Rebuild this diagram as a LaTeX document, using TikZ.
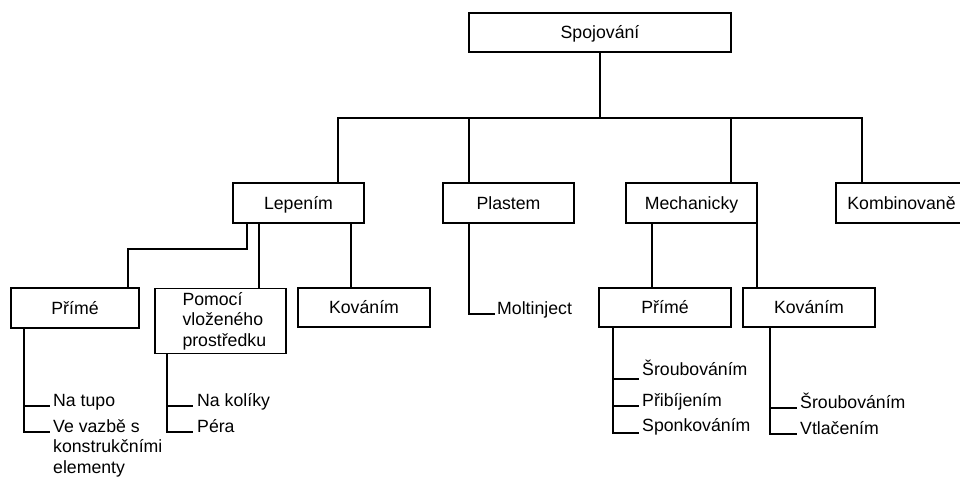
\documentclass[tikz,border=0pt]{standalone}
\usepackage{fontspec}
\setmainfont{Liberation Sans}
\newcommand\diafont{\fontsize{17.7}{20.5}\selectfont}
\begin{document}
\begin{tikzpicture}[x=1pt,y=-1pt,
  box/.style={draw, line width=1.4pt, inner sep=0pt, font=\diafont, text height=12.7pt, text depth=0pt},
  lnk/.style={line width=1.4pt},
  leaf/.style={anchor=base west, inner sep=0pt, font=\diafont}]
\clip (0,0) rectangle (960,477);
\fill[white] (0,0) rectangle (960,477);
% boxes
\node[box, minimum width=262pt, minimum height=39pt] (spoj) at (600,32.5) {Spojování};
\node[box, minimum width=131pt, minimum height=40pt] (lep) at (298.5,203) {Lepením};
\node[box, minimum width=131pt, minimum height=40pt] (pla) at (508.5,203) {Plastem};
\node[box, minimum width=131pt, minimum height=40pt] (mech) at (691.5,203) {Mechanicky};
\node[box, minimum width=131pt, minimum height=40pt] (kom) at (901.5,203) {Kombinovaně};
\node[box, minimum width=128pt, minimum height=40pt] (primL) at (75,308) {Přímé};
\node[draw, line width=1.4pt, inner sep=0pt, font=\diafont, minimum width=131pt, minimum height=65pt, text width=76pt, align=left] (pom) at (220.5,321) {Pomocí\\vloženého\\prostředku};
\node[box, minimum width=132pt, minimum height=39pt] (kovL) at (364,307.5) {Kováním};
\node[box, minimum width=132pt, minimum height=39pt] (primM) at (665,307.5) {Přímé};
\node[box, minimum width=132pt, minimum height=39pt] (kovM) at (809,307.5) {Kováním};
% leaves
\node[leaf] (t1) at (53,406) {Na tupo};
\node[leaf] (t2) at (53,432) {\parbox[t]{150pt}{Ve vazbě s\\konstrukčními\\elementy}};
\node[leaf] (t3) at (197,406) {Na kolíky};
\node[leaf] (t4) at (197,432) {Péra};
\node[leaf] (t5) at (497,314) {Moltinject};
\node[leaf] (t6) at (642,375) {Šroubováním};
\node[leaf] (t7) at (642,406) {Přibíjením};
\node[leaf] (t8) at (642,431) {Sponkováním};
\node[leaf] (t9) at (800,408) {Šroubováním};
\node[leaf] (t10) at (800,434) {Vtlačením};
% connector columns
\coordinate (b1) at (338,118);
\coordinate (b2) at (862,118);
\coordinate (cP) at (469,0);
\coordinate (cM) at (731,0);
\coordinate (j1) at (247,249);
\coordinate (j2) at (128,249);
\coordinate (j3) at (259,0);
\coordinate (j4) at (351,0);
\coordinate (j6) at (652,0);
\coordinate (j7) at (757,0);
\coordinate (v1) at (24,0);
\coordinate (v2) at (167,0);
\coordinate (v3) at (613,0);
\coordinate (v4) at (770,0);
% top level
\draw[lnk] (spoj.south) -- (spoj.south |- b1);
\draw[lnk] (lep.north -| b1) -- (b1) -- (b2) -- (kom.north -| b2);
\draw[lnk] (pla.north -| cP) -- (cP |- b1);
\draw[lnk] (mech.north -| cM) -- (cM |- b1);
% second level
\draw[lnk] (lep.south -| j1) -- (j1) -- (j2) -- (primL.north -| j2);
\draw[lnk] (lep.south -| j3) -- (pom.north -| j3);
\draw[lnk] (lep.south -| j4) -- (kovL.north -| j4);
\draw[lnk] (pla.south -| cP) |- ([xshift=-2pt]t5.base west);
\draw[lnk] (mech.south -| j6) -- (primM.north -| j6);
\draw[lnk] (mech.south -| j7) -- (kovM.north -| j7);
% leaf trees
\draw[lnk] (primL.south -| v1) |- ([xshift=-3pt]t2.base west);
\draw[lnk] (v1 |- t1.base) -- ([xshift=-3pt]t1.base west);
\draw[lnk] (pom.south -| v2) |- ([xshift=-4pt]t4.base west);
\draw[lnk] (v2 |- t3.base) -- ([xshift=-4pt]t3.base west);
\draw[lnk] (primM.south -| v3) |- ([xshift=-3pt,yshift=-2pt]t8.base west);
\draw[lnk] (v3 |- t7.base) -- ([xshift=-3pt]t7.base west);
\draw[lnk] ([yshift=-4pt]v3 |- t6.base) -- ([xshift=-3pt,yshift=-4pt]t6.base west);
\draw[lnk] (kovM.south -| v4) |- ([xshift=-3pt]t10.base west);
\draw[lnk] (v4 |- t9.base) -- ([xshift=-3pt]t9.base west);
\end{tikzpicture}
\end{document}
